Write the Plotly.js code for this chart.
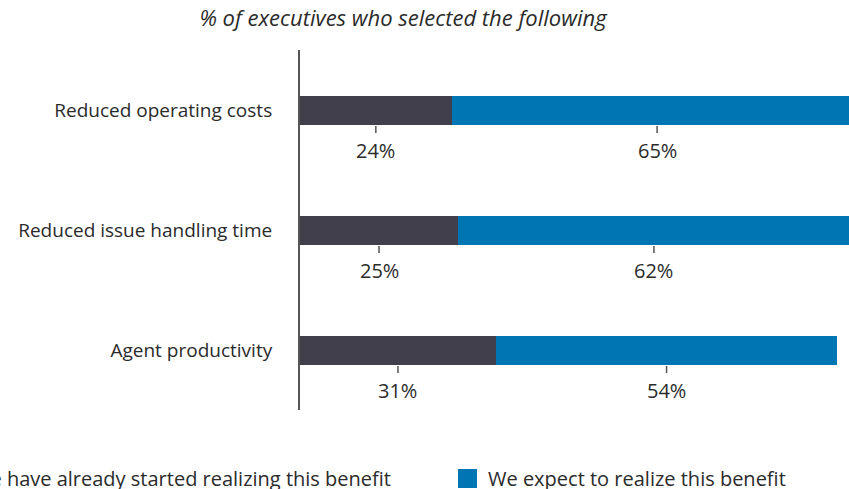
<!DOCTYPE html>
<html>
<head>
<meta charset="utf-8">
<script src="https://cdn.plot.ly/plotly-3.0.1.min.js"></script>
<style>html,body{margin:0;padding:0;background:#fff;}#chart{width:849px;height:489px;}</style>
</head>
<body>
<div id="chart"></div>
<script>
const categories = ['Reduced operating costs', 'Reduced issue handling time', 'Agent productivity'];
const started = [24, 25, 31];
const expected = [65, 62, 54];
const seriesNames = ['We have already started realizing this benefit', 'We expect to realize this benefit'];
const seriesColors = ['#423f4d', '#0075b3'];
const titleText = '% of executives who selected the following';

const FONT = 'Open Sans, Noto Sans, sans-serif';
const W = 849, H = 489, L = 300, T = 50, PW = 549, PH = 360;
const px2x = p => (p - L) / PW;
const px2y = p => (T + PH - p) / PH;

const yIdx = categories.map((_, i) => i);

const traces = [
  {type: 'bar', orientation: 'h', y: yIdx, x: started, name: seriesNames[0],
   marker: {color: seriesColors[0]}, width: 0.2417, hoverinfo: 'none', showlegend: false},
  {type: 'bar', orientation: 'h', y: yIdx, x: expected, name: seriesNames[1],
   marker: {color: seriesColors[1]}, width: 0.2417, hoverinfo: 'none', showlegend: false}
];

const annotations = [];
const shapes = [];
[started, expected].forEach((vals, s) => {
  vals.forEach((v, i) => {
    const base = s === 0 ? 0 : started[i];
    const mid = base + v / 2;
    annotations.push({x: mid, y: i, xref: 'x', yref: 'y', yshift: -40, showarrow: false,
      text: v + '%', font: {family: FONT, size: 20, color: '#2b2b2b'}, xanchor: 'center', yanchor: 'middle'});
    shapes.push({type: 'line', xref: 'x', yref: 'y', x0: mid, x1: mid, ysizemode: 'pixel', yanchor: i,
      y0: -16, y1: -23, line: {color: '#555', width: 1.5}});
  });
});

// legend
const legY = 478;
shapes.push({type: 'rect', xref: 'paper', yref: 'paper', x0: px2x(458), x1: px2x(477), y0: px2y(469), y1: px2y(488),
  fillcolor: seriesColors[1], line: {width: 0}});
shapes.push({type: 'rect', xref: 'paper', yref: 'paper', x0: px2x(-70), x1: px2x(-51), y0: px2y(469), y1: px2y(488),
  fillcolor: seriesColors[0], line: {width: 0}});
annotations.push({x: px2x(393), y: px2y(legY), xref: 'paper', yref: 'paper', showarrow: false, xanchor: 'right', yanchor: 'middle',
  text: seriesNames[0], font: {family: FONT, size: 20, color: '#2b2b2b'}});
annotations.push({x: px2x(486), y: px2y(legY), xref: 'paper', yref: 'paper', showarrow: false, xanchor: 'left', yanchor: 'middle',
  text: seriesNames[1], font: {family: FONT, size: 20, color: '#2b2b2b'}});

const layout = {
  width: W, height: H,
  margin: {l: L, r: W - L - PW, t: T, b: H - T - PH, autoexpand: false},
  paper_bgcolor: '#fff', plot_bgcolor: '#fff',
  barmode: 'stack',
  showlegend: false,
  title: {text: titleText, font: {family: FONT, size: 22, style: 'italic', color: '#2b2b2b'},
    x: 403 / W, xanchor: 'center', xref: 'container', y: 1 - 18 / H, yanchor: 'middle', yref: 'container'},
  xaxis: {range: [0, PW / 6.32], showgrid: false, zeroline: false, showline: false, showticklabels: false, ticks: '', fixedrange: true},
  yaxis: {range: [2.5, -0.5], tickvals: yIdx, ticktext: categories, showgrid: false, zeroline: false,
    showline: true, linecolor: '#555', linewidth: 2, ticks: '', ticklabelstandoff: 22,
    tickfont: {family: FONT, size: 19, color: '#2b2b2b'}, fixedrange: true},
  annotations: annotations,
  shapes: shapes
};

Plotly.newPlot('chart', traces, layout, {displayModeBar: false, staticPlot: true});
</script>
</body>
</html>
